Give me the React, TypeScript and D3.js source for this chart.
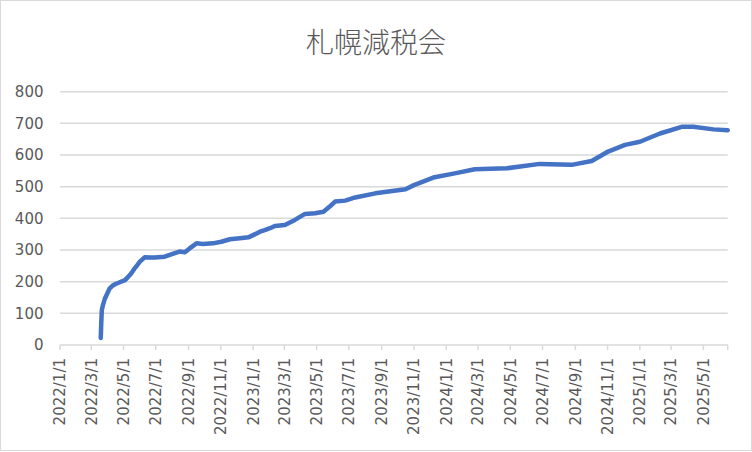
import React from "react";
import * as d3 from "d3";

const title = "札幌減税会";

const dates: string[] = [
  "2022-03-19", "2022-03-20", "2022-03-21", "2022-03-23", "2022-03-27", "2022-04-01",
  "2022-04-05", "2022-04-10", "2022-04-15", "2022-04-25", "2022-05-04", "2022-05-13",
  "2022-05-18", "2022-05-22", "2022-05-27", "2022-06-01", "2022-06-10", "2022-06-20",
  "2022-06-29", "2022-07-18", "2022-08-06", "2022-08-15", "2022-08-25", "2022-09-03",
  "2022-09-16", "2022-09-28", "2022-10-17", "2022-11-02", "2022-11-18", "2022-12-07",
  "2022-12-23", "2023-01-01", "2023-01-14", "2023-01-23", "2023-02-02", "2023-02-11",
  "2023-03-02", "2023-03-21", "2023-04-09", "2023-04-28", "2023-05-14", "2023-05-27",
  "2023-06-05", "2023-06-24", "2023-07-13", "2023-08-20", "2023-10-16", "2023-11-01",
  "2023-12-10", "2024-01-17", "2024-02-24", "2024-04-24", "2024-06-26", "2024-08-25",
  "2024-10-02", "2024-11-02", "2024-12-04", "2025-01-01", "2025-02-08", "2025-03-21",
  "2025-04-12", "2025-05-20", "2025-06-16",
];

const values: number[] = [
  22, 70, 110, 125, 147, 165,
  179, 187, 192, 199, 205, 221,
  232, 242, 252, 263, 277, 276,
  276, 279, 290, 295, 293, 305,
  321, 319, 321, 326, 334, 337,
  340, 347, 358, 363, 369, 376,
  379, 395, 414, 416, 421, 439,
  453, 456, 466, 479, 492, 505,
  530, 542, 555, 558, 572, 569,
  581, 611, 632, 642, 668, 689,
  689, 681, 678,
];

const yTicks: number[] = [0, 100, 200, 300, 400, 500, 600, 700, 800];

const xTickLabels: string[] = [
  "2022/1/1", "2022/3/1", "2022/5/1", "2022/7/1", "2022/9/1", "2022/11/1",
  "2023/1/1", "2023/3/1", "2023/5/1", "2023/7/1", "2023/9/1", "2023/11/1",
  "2024/1/1", "2024/3/1", "2024/5/1", "2024/7/1", "2024/9/1", "2024/11/1",
  "2025/1/1", "2025/3/1", "2025/5/1",
];

const W = 752;
const H = 452;
const labelFont = "'DejaVu Sans', sans-serif";
const textColor = "#595959";
const gridColor = "#d9d9d9";

export default function App() {
  const parse = d3.timeParse("%Y-%m-%d");
  const parseTick = d3.timeParse("%Y/%m/%d");
  const data = dates.map((d, i) => ({ date: parse(d) as Date, value: values[i] }));
  const ticks = xTickLabels.map((t) => ({ label: t, date: parseTick(t) as Date }));

  const x = d3
    .scaleTime()
    .domain([new Date(2022, 0, 1), new Date(2025, 5, 16)])
    .range([60, 727.7]);
  const y = d3.scaleLinear().domain([0, 800]).range([345, 91.7]);

  const line = d3
    .line<{ date: Date; value: number }>()
    .x((d) => x(d.date))
    .y((d) => y(d.value));

  const x0 = x.range()[0];
  const x1 = x.range()[1];
  const yBase = y(0);

  return (
    <svg
      width={W}
      height={H}
      style={{ position: "absolute", left: 0, top: 0, background: "#fff" }}
    >
      <rect x={0.5} y={0.5} width={W - 1} height={H - 2} fill="#fff" stroke={gridColor} strokeWidth={1} />
      <text
        x={376}
        y={41}
        textAnchor="middle"
        dominantBaseline="central"
        fontFamily="'Noto Sans CJK JP', sans-serif"
        fontWeight={300}
        fontSize={28}
        fill={textColor}
      >
        {title}
      </text>
      {yTicks.map((t) => (
        <g key={t}>
          <line x1={x0} x2={x1} y1={y(t)} y2={y(t)} stroke={gridColor} strokeWidth={1.5} />
          <text
            x={43.5}
            y={y(t)}
            dy="0.36em"
            textAnchor="end"
            fontFamily={labelFont}
            fontSize={15}
            fill={textColor}
          >
            {t}
          </text>
        </g>
      ))}
      {ticks.map((t) => {
        const tx = x(t.date);
        return (
          <g key={t.label}>
            <line x1={tx} x2={tx} y1={yBase} y2={yBase + 5} stroke={gridColor} strokeWidth={1.5} />
            <text
              transform={`translate(${tx},358) rotate(-90)`}
              textAnchor="end"
              dy="0.36em"
              fontFamily={labelFont}
              fontSize={15}
              fill={textColor}
            >
              {t.label}
            </text>
          </g>
        );
      })}
      <line x1={x1} x2={x1} y1={yBase} y2={yBase + 5} stroke={gridColor} strokeWidth={1.5} />
      <path
        d={line(data) || ""}
        fill="none"
        stroke="#4472C4"
        strokeWidth={4.5}
        strokeLinecap="round"
        strokeLinejoin="round"
      />
    </svg>
  );
}
